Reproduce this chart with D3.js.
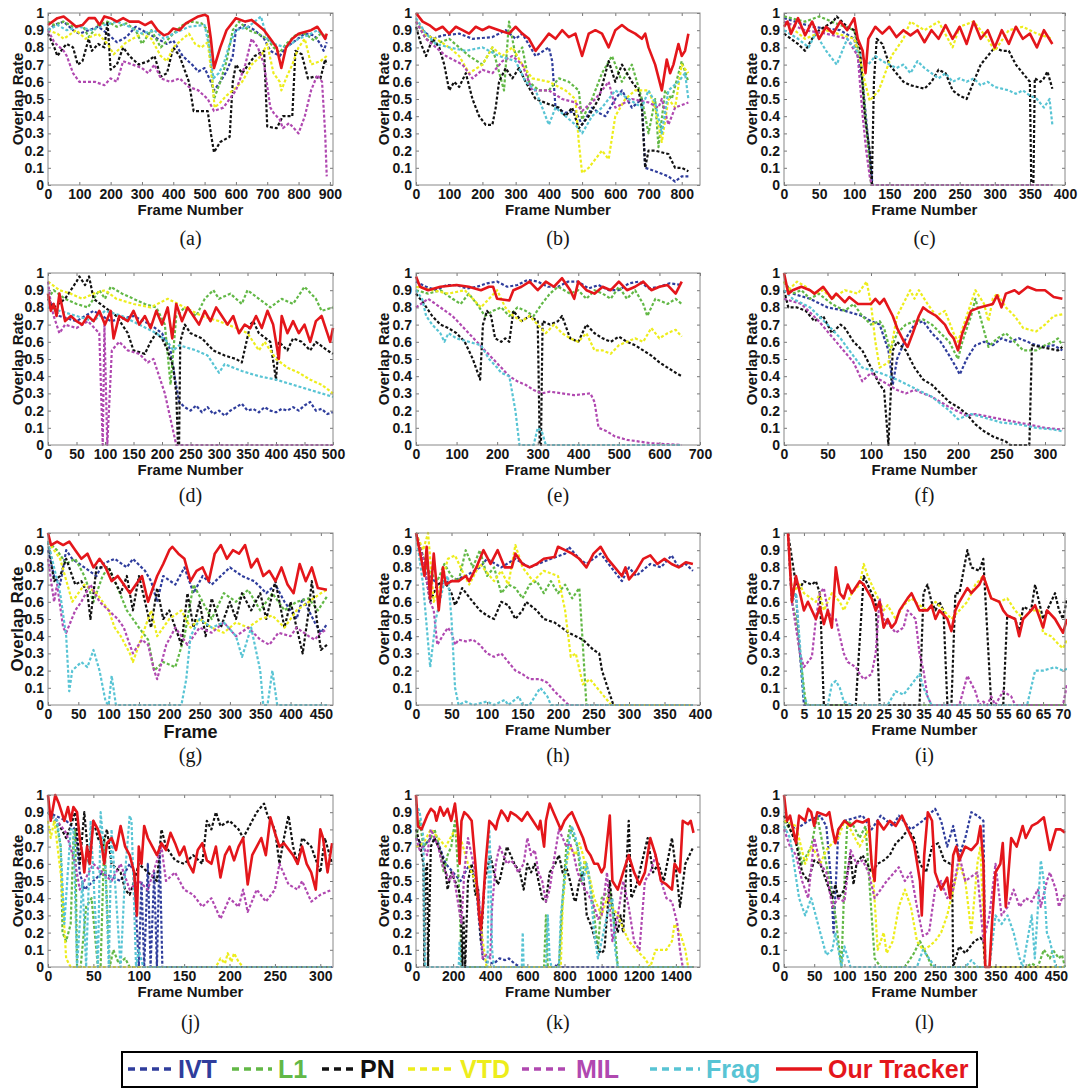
<!DOCTYPE html>
<html>
<head>
<meta charset="utf-8">
<script src="https://cdn.jsdelivr.net/npm/d3@7"></script>
<style>
body { margin: 0; background: #fff; }
svg text { font-family: "Liberation Sans", Arial, sans-serif; font-weight: bold; fill: #151515; }
svg text.tag { font-family: "Liberation Serif", "Times New Roman", serif; font-weight: normal; }
</style>
</head>
<body>
<svg id="fig" width="1079" height="1089"></svg>
<script>
// trackers, in legend order
var trackers = ["IVT", "L1", "PN", "VTD", "MIL", "Frag", "Our Tracker"];
var colors = ["#2f3d9c", "#62b846", "#111111", "#eded1c", "#b048b0", "#58c4d4", "#e4161b"];
var yTicks = [0, 0.1, 0.2, 0.3, 0.4, 0.5, 0.6, 0.7, 0.8, 0.9, 1];

// values are x,y pairs (frame, overlap rate)
var a_ticks = [0,100,200,300,400,500,600,700,800,900];
var a_ivt = [0,.9, 20,.93, 50,.95, 80,.9, 100,.88, 130,.9, 160,.92, 190,.88, 220,.83, 250,.86, 280,.92, 300,.9, 330,.87, 350,.85, 380,.82, 400,.84, 430,.75, 460,.7, 480,.66, 500,.68, 520,.6, 530,.55, 550,.6, 570,.66, 590,.75, 600,.9, 630,.93, 660,.9, 690,.85, 710,.78, 740,.75, 760,.8, 790,.84, 820,.88, 850,.87, 870,.82, 880,.78, 890,.83];
var a_l1 = [0,.95, 20,.93, 50,.95, 80,.92, 110,.93, 130,.86, 160,.93, 190,.95, 220,.92, 250,.94, 280,.9, 300,.82, 330,.9, 360,.8, 380,.84, 400,.88, 430,.93, 460,.95, 490,.94, 510,.9, 530,.5, 550,.6, 570,.72, 590,.9, 610,.95, 640,.9, 670,.88, 700,.85, 720,.8, 740,.77, 760,.82, 790,.87, 820,.88, 850,.84, 870,.88, 890,.86];
var a_pn = [0,.88, 20,.8, 30,.75, 50,.8, 60,.82, 80,.8, 95,.7, 110,.72, 130,.85, 140,.78, 160,.82, 180,.8, 190,.95, 200,.67, 220,.7, 240,.8, 260,.75, 290,.7, 320,.72, 340,.75, 360,.63, 380,.65, 400,.8, 420,.75, 450,.6, 465,.43, 510,.43, 520,.3, 530,.19, 550,.25, 580,.28, 590,.6, 600,.7, 620,.65, 640,.7, 660,.75, 690,.78, 700,.34, 730,.33, 750,.4, 780,.4, 790,.78, 810,.76, 830,.62, 850,.63, 870,.62, 885,.73, 890,.7];
var a_vtd = [0,.9, 30,.88, 50,.85, 90,.9, 120,.85, 160,.88, 190,.82, 210,.76, 250,.83, 300,.88, 330,.85, 360,.75, 380,.72, 400,.8, 430,.85, 450,.88, 470,.82, 490,.8, 510,.83, 525,.6, 532,.45, 550,.48, 570,.52, 590,.55, 620,.6, 650,.7, 680,.75, 700,.82, 720,.65, 740,.6, 745,.55, 760,.62, 780,.7, 800,.8, 820,.85, 840,.7, 870,.72, 890,.75];
var a_mil = [0,.9, 20,.83, 50,.78, 60,.75, 80,.65, 100,.6, 150,.6, 180,.58, 200,.62, 220,.6, 240,.72, 270,.7, 300,.68, 320,.65, 340,.7, 360,.62, 390,.6, 420,.62, 450,.57, 480,.55, 510,.5, 530,.43, 560,.45, 580,.5, 600,.55, 630,.7, 650,.85, 670,.8, 690,.7, 710,.45, 720,.42, 740,.38, 750,.33, 770,.36, 800,.3, 820,.4, 840,.55, 860,.64, 875,.6, 885,.3, 890,.05];
var a_frag = [0,.9, 30,.93, 60,.9, 100,.92, 140,.9, 180,.93, 220,.95, 260,.92, 300,.88, 340,.9, 370,.85, 400,.88, 450,.92, 500,.93, 515,.8, 528,.62, 545,.65, 560,.7, 580,.82, 600,.9, 640,.92, 680,.98, 700,.85, 720,.82, 760,.8, 800,.85, 830,.87, 860,.9, 890,.85];
var a_ours = [0,.93, 30,.97, 50,.98, 70,.95, 90,.92, 110,.93, 130,.97, 150,.97, 165,.93, 180,.98, 200,.97, 220,.95, 240,.97, 260,.95, 290,.95, 310,.93, 330,.95, 350,.9, 370,.87, 385,.88, 400,.91, 420,.9, 440,.94, 460,.96, 480,.98, 500,.99, 510,.98, 520,.85, 530,.68, 550,.8, 570,.9, 600,.97, 630,.95, 650,.96, 670,.93, 690,.9, 710,.85, 730,.8, 745,.68, 760,.8, 780,.85, 800,.88, 820,.89, 840,.9, 860,.92, 875,.88, 885,.85, 890,.88];

var b_ticks = [0,100,200,300,400,500,600,700,800];
var b_ivt = [0,.95, 20,.9, 50,.85, 80,.87, 130,.88, 170,.85, 230,.86, 270,.9, 300,.85, 320,.88, 360,.75, 400,.8, 410,.72, 420,.45, 450,.42, 480,.43, 500,.35, 530,.45, 550,.42, 570,.4, 600,.5, 620,.55, 650,.45, 680,.5, 690,.1, 720,.08, 760,.05, 780,.02, 800,.05, 820,.05];
var b_l1 = [0,.95, 30,.85, 60,.82, 100,.85, 130,.8, 160,.75, 200,.7, 230,.8, 265,.55, 280,.95, 300,.75, 320,.8, 340,.6, 370,.55, 400,.55, 430,.62, 460,.6, 490,.55, 500,.38, 530,.5, 560,.65, 590,.75, 620,.6, 650,.7, 680,.5, 700,.3, 720,.5, 730,.22, 750,.55, 770,.5, 800,.72, 820,.6];
var b_pn = [0,.92, 15,.82, 30,.75, 50,.85, 70,.8, 85,.7, 100,.55, 115,.6, 130,.57, 150,.65, 170,.5, 190,.4, 210,.35, 230,.35, 240,.45, 250,.6, 270,.68, 290,.62, 310,.68, 330,.6, 360,.5, 400,.47, 430,.45, 450,.4, 470,.45, 490,.33, 520,.4, 550,.5, 580,.72, 600,.6, 620,.7, 650,.6, 670,.55, 680,.45, 690,.1, 700,.2, 720,.2, 760,.18, 780,.1, 800,.1, 820,.08];
var b_vtd = [0,.95, 30,.87, 60,.85, 100,.8, 130,.75, 160,.65, 200,.7, 230,.8, 260,.75, 290,.8, 320,.7, 350,.62, 400,.6, 450,.55, 480,.5, 490,.25, 500,.07, 520,.1, 540,.15, 560,.2, 580,.15, 600,.4, 630,.5, 660,.55, 700,.55, 720,.45, 740,.25, 760,.5, 780,.45, 800,.7, 820,.65];
var b_mil = [0,.95, 30,.85, 60,.8, 90,.75, 110,.73, 140,.7, 170,.62, 200,.67, 230,.65, 260,.72, 290,.75, 320,.7, 350,.55, 400,.55, 440,.5, 480,.48, 500,.43, 540,.5, 580,.6, 600,.45, 650,.5, 700,.48, 730,.45, 740,.5, 760,.35, 780,.45, 820,.48];
var b_frag = [0,.97, 30,.88, 60,.82, 100,.8, 150,.78, 200,.8, 250,.75, 300,.72, 330,.6, 360,.55, 400,.35, 420,.45, 450,.4, 480,.35, 500,.3, 530,.4, 560,.45, 600,.55, 640,.5, 680,.45, 700,.55, 720,.48, 740,.3, 760,.55, 790,.6, 810,.65, 820,.5];
var b_ours = [0,1, 20,.95, 40,.93, 60,.9, 80,.92, 100,.88, 120,.92, 140,.9, 160,.88, 180,.92, 200,.9, 220,.92, 250,.9, 280,.88, 300,.92, 320,.88, 340,.85, 360,.78, 380,.83, 400,.88, 420,.85, 440,.9, 460,.86, 480,.88, 500,.75, 520,.88, 540,.9, 560,.88, 580,.8, 600,.9, 620,.93, 640,.9, 660,.88, 680,.85, 690,.88, 700,.8, 720,.7, 740,.55, 755,.73, 765,.65, 775,.7, 790,.82, 800,.75, 810,.78, 820,.88];

var c_ticks = [0,50,100,150,200,250,300,350,400];
var c_ivt = [0,.97, 40,.92, 80,.9, 100,.85, 112,.6, 120,.25, 126,0, 382,0];
var c_l1 = [0,.98, 30,.95, 50,.98, 80,.93, 100,.9, 110,.7, 118,.3, 124,0, 382,0];
var c_pn = [0,.88, 20,.82, 30,.78, 40,.85, 50,.9, 70,.95, 75,.98, 90,.92, 100,.9, 108,.8, 115,.4, 122,.2, 125,0, 128,.6, 132,.85, 140,.82, 150,.7, 160,.65, 170,.6, 180,.58, 190,.57, 200,.56, 210,.6, 220,.67, 230,.65, 240,.55, 250,.52, 260,.5, 270,.6, 280,.7, 290,.75, 300,.8, 310,.78, 320,.78, 330,.7, 340,.65, 350,.6, 352,0, 355,0, 357,.62, 365,.6, 370,.62, 375,.66, 382,.56];
var c_vtd = [0,.95, 30,.85, 60,.9, 100,.85, 110,.7, 115,.6, 122,.49, 135,.55, 153,.75, 170,.85, 180,.95, 200,.9, 220,.95, 240,.8, 250,.92, 270,.95, 290,.85, 300,.78, 320,.9, 340,.92, 360,.88, 382,.85];
var c_mil = [0,.95, 30,.9, 60,.88, 90,.85, 105,.75, 112,.4, 117,.2, 122,.05, 125,0, 382,0];
var c_frag = [0,.9, 20,.85, 35,.8, 45,.88, 60,.78, 75,.7, 90,.85, 100,.8, 110,.75, 120,.7, 130,.75, 140,.72, 150,.7, 160,.68, 170,.7, 180,.65, 190,.72, 200,.68, 210,.65, 220,.62, 230,.65, 240,.6, 250,.62, 260,.6, 270,.62, 280,.58, 290,.6, 300,.57, 310,.56, 320,.55, 330,.53, 340,.55, 350,.52, 360,.5, 370,.45, 378,.5, 382,.35];
var c_ours = [0,.92, 5,.95, 10,.88, 20,.97, 30,.87, 40,.95, 50,.85, 60,.92, 70,.88, 80,.95, 90,.9, 100,.97, 105,.85, 112,.78, 116,.65, 120,.85, 130,.92, 140,.88, 150,.92, 160,.86, 170,.9, 180,.87, 190,.9, 200,.83, 210,.9, 220,.85, 230,.93, 240,.85, 250,.92, 260,.82, 270,.95, 280,.85, 290,.9, 300,.8, 310,.9, 320,.82, 330,.92, 340,.85, 350,.88, 360,.8, 370,.9, 382,.82];

var d_ticks = [0,50,100,150,200,250,300,350,400,450,500];
var d_ivt = [0,.85, 20,.75, 50,.72, 80,.78, 110,.72, 150,.75, 180,.7, 200,.65, 215,.55, 222,.4, 230,.25, 240,.22, 250,.2, 260,.23, 270,.19, 280,.22, 290,.18, 300,.2, 310,.17, 320,.2, 330,.22, 340,.24, 350,.2, 360,.21, 370,.19, 380,.22, 390,.2, 400,.19, 410,.21, 420,.2, 430,.22, 440,.2, 450,.23, 460,.25, 470,.2, 480,.21, 490,.18, 500,.19];
var d_l1 = [0,.85, 10,.9, 30,.85, 50,.82, 70,.8, 90,.9, 100,.85, 110,.92, 130,.88, 150,.85, 170,.82, 190,.8, 205,.7, 215,.35, 225,.75, 240,.8, 260,.75, 275,.85, 290,.9, 300,.85, 320,.88, 340,.82, 350,.9, 370,.85, 390,.8, 410,.85, 430,.82, 450,.92, 470,.85, 480,.78, 500,.8];
var d_pn = [0,.85, 10,.8, 30,.85, 50,.95, 55,.98, 65,.93, 72,.98, 80,.85, 100,.8, 120,.75, 130,.7, 140,.65, 150,.55, 170,.53, 180,.6, 190,.65, 200,.62, 210,.55, 220,.45, 225,.3, 228,0, 230,0, 232,.6, 240,.7, 250,.65, 270,.62, 290,.55, 310,.52, 330,.5, 340,.48, 355,.7, 360,.72, 370,.65, 390,.6, 400,.38, 405,.6, 420,.55, 430,.62, 445,.6, 460,.55, 470,.6, 490,.55, 500,.53];
var d_vtd = [0,.95, 20,.9, 40,.88, 60,.85, 80,.88, 100,.9, 120,.85, 150,.82, 180,.8, 210,.85, 240,.8, 270,.75, 300,.72, 330,.68, 350,.65, 370,.55, 380,.6, 400,.5, 420,.45, 440,.42, 460,.38, 480,.35, 500,.3];
var d_mil = [0,.95, 5,.82, 10,.75, 20,.65, 30,.7, 50,.68, 70,.72, 90,.65, 96,0, 99,.7, 104,0, 112,.55, 125,.6, 140,.55, 160,.53, 175,.48, 185,.5, 195,.4, 205,.3, 215,.15, 225,0, 500,0];
var d_frag = [0,.8, 20,.78, 50,.75, 80,.72, 100,.78, 130,.75, 160,.7, 190,.65, 210,.6, 220,.55, 230,.58, 260,.55, 280,.52, 300,.42, 310,.47, 340,.43, 370,.4, 400,.38, 430,.35, 460,.32, 500,.28];
var d_ours = [0,.88, 5,.78, 10,.82, 15,.75, 20,.88, 25,.8, 30,.72, 40,.75, 50,.72, 60,.7, 70,.75, 80,.72, 90,.78, 100,.7, 110,.78, 115,.62, 125,.75, 140,.72, 150,.78, 160,.7, 170,.75, 180,.68, 190,.78, 200,.7, 210,.8, 218,.62, 225,.82, 235,.72, 245,.8, 255,.75, 265,.7, 275,.78, 285,.72, 295,.8, 305,.75, 315,.7, 325,.75, 335,.65, 345,.7, 355,.68, 365,.75, 375,.68, 385,.78, 395,.7, 405,.5, 410,.75, 420,.65, 430,.72, 440,.65, 450,.7, 460,.6, 470,.72, 480,.75, 490,.65, 495,.6, 500,.68];

var e_ticks = [0,100,200,300,400,500,600,700];
var e_ivt = [0,.95, 25,.92, 50,.9, 75,.93, 100,.93, 125,.91, 150,.92, 175,.94, 200,.95, 225,.92, 250,.93, 275,.96, 300,.95, 325,.92, 350,.92, 375,.95, 400,.95, 425,.91, 450,.93, 475,.9, 500,.9, 525,.94, 550,.95, 575,.91, 600,.92, 625,.94, 655,.93];
var e_l1 = [0,.9, 30,.88, 60,.9, 90,.85, 110,.82, 130,.88, 150,.82, 170,.75, 190,.78, 210,.8, 230,.75, 250,.8, 270,.78, 290,.75, 310,.82, 330,.88, 350,.92, 380,.88, 400,.9, 420,.85, 440,.9, 460,.88, 480,.85, 500,.92, 520,.85, 540,.9, 560,.82, 570,.75, 590,.85, 620,.82, 640,.85, 655,.82];
var e_pn = [0,.88, 20,.82, 40,.75, 60,.7, 80,.68, 100,.65, 120,.6, 140,.5, 155,.4, 158,.38, 165,.7, 175,.78, 185,.75, 195,.62, 210,.6, 220,.62, 230,.6, 240,.78, 260,.72, 280,.75, 300,.72, 305,0, 308,0, 312,.72, 330,.7, 350,.72, 360,.75, 380,.62, 400,.6, 420,.7, 440,.65, 460,.62, 480,.6, 500,.63, 520,.6, 540,.58, 560,.55, 580,.52, 600,.48, 620,.45, 640,.42, 655,.4];
var e_vtd = [0,.92, 40,.9, 80,.88, 120,.9, 140,.85, 160,.8, 180,.85, 200,.9, 220,.8, 240,.75, 260,.72, 280,.75, 300,.7, 320,.65, 340,.7, 360,.65, 380,.62, 400,.6, 420,.65, 440,.55, 460,.55, 480,.53, 500,.58, 520,.6, 540,.62, 560,.6, 580,.68, 600,.62, 620,.65, 640,.67, 655,.63];
var e_mil = [0,.8, 30,.85, 60,.8, 90,.75, 110,.7, 130,.65, 150,.6, 170,.55, 190,.5, 210,.45, 230,.4, 250,.37, 270,.35, 290,.32, 310,.3, 330,.31, 360,.3, 390,.29, 430,.3, 440,.25, 450,.1, 470,.08, 490,.05, 520,.03, 550,.02, 580,.01, 655,0];
var e_frag = [0,.9, 15,.85, 25,.75, 40,.7, 60,.65, 70,.6, 80,.65, 100,.62, 130,.6, 160,.58, 180,.5, 200,.45, 210,.42, 230,.4, 245,.2, 255,0, 290,0, 300,.1, 310,.08, 320,0, 655,0];
var e_ours = [0,.98, 10,.92, 30,.9, 60,.92, 100,.93, 130,.92, 160,.9, 180,.92, 190,.92, 200,.85, 230,.84, 240,.9, 260,.92, 280,.95, 300,.9, 320,.95, 340,.92, 360,.97, 380,.9, 390,.85, 400,.95, 420,.9, 440,.88, 460,.92, 480,.9, 500,.95, 520,.9, 540,.92, 560,.95, 580,.9, 600,.92, 620,.93, 640,.88, 655,.95];

var f_ticks = [0,50,100,150,200,250,300];
var f_ivt = [0,.95, 10,.88, 30,.85, 50,.8, 70,.78, 90,.75, 100,.72, 110,.7, 120,.55, 125,.35, 130,.5, 140,.62, 150,.7, 160,.72, 170,.65, 180,.6, 190,.52, 198,.45, 202,.41, 210,.5, 220,.58, 230,.6, 240,.58, 250,.62, 260,.6, 270,.62, 280,.6, 290,.58, 300,.57, 310,.58, 320,.55];
var f_l1 = [0,.95, 10,.88, 20,.9, 30,.85, 40,.88, 55,.82, 70,.78, 80,.82, 90,.75, 100,.7, 110,.72, 115,.68, 122,.55, 130,.65, 140,.7, 150,.72, 160,.73, 170,.7, 180,.65, 190,.6, 200,.5, 205,.6, 215,.75, 220,.85, 228,.7, 235,.57, 245,.62, 255,.65, 265,.6, 275,.55, 290,.55, 300,.58, 310,.6, 315,.62, 320,.58];
var f_pn = [0,.9, 5,.8, 15,.8, 25,.78, 35,.72, 45,.75, 55,.65, 65,.7, 70,.68, 80,.6, 90,.55, 100,.45, 110,.35, 115,.32, 120,0, 125,.55, 130,.6, 140,.55, 150,.45, 160,.38, 170,.35, 180,.3, 190,.25, 200,.22, 210,.18, 220,.12, 230,.08, 240,.05, 250,.03, 255,.02, 260,0, 282,0, 285,.58, 295,.57, 305,.56, 315,.55, 320,.57];
var f_vtd = [0,.95, 5,.9, 15,.95, 25,.92, 35,.88, 45,.9, 55,.85, 70,.9, 85,.88, 95,.95, 100,.82, 105,.6, 110,.45, 120,.48, 130,.75, 140,.85, 145,.9, 150,.85, 155,.9, 165,.82, 175,.75, 185,.78, 195,.65, 200,.6, 210,.75, 220,.9, 230,.82, 235,.72, 240,.85, 245,.88, 255,.8, 265,.75, 275,.68, 290,.66, 300,.7, 310,.75, 320,.76];
var f_mil = [0,.85, 20,.82, 40,.72, 60,.6, 80,.48, 90,.37, 100,.42, 110,.38, 120,.35, 130,.32, 140,.3, 150,.32, 170,.28, 190,.22, 210,.17, 220,.18, 240,.16, 260,.14, 280,.12, 300,.1, 320,.09];
var f_frag = [0,.9, 10,.85, 30,.8, 50,.7, 65,.62, 75,.55, 90,.45, 110,.42, 130,.38, 150,.33, 170,.28, 190,.2, 200,.15, 215,.18, 230,.16, 250,.13, 270,.12, 290,.1, 310,.09, 320,.08];
var f_ours = [0,1, 5,.88, 10,.9, 20,.92, 30,.9, 35,.88, 40,.9, 45,.92, 55,.85, 60,.88, 70,.83, 75,.86, 85,.82, 100,.82, 105,.85, 110,.82, 115,.85, 125,.75, 130,.68, 138,.6, 142,.57, 148,.65, 155,.75, 160,.8, 165,.78, 175,.75, 185,.7, 190,.65, 195,.62, 200,.55, 205,.65, 215,.78, 225,.8, 240,.82, 245,.87, 250,.8, 255,.88, 265,.9, 270,.88, 275,.9, 280,.92, 290,.9, 300,.9, 310,.86, 320,.85];

var g_ticks = [0,50,100,150,200,250,300,350,400,450];
var g_ivt = [0,.9, 10,.75, 20,.7, 30,.9, 40,.85, 60,.8, 80,.75, 90,.82, 110,.85, 130,.8, 140,.85, 160,.78, 170,.72, 180,.6, 190,.75, 210,.7, 225,.8, 240,.65, 255,.75, 270,.7, 300,.8, 320,.75, 340,.72, 360,.65, 375,.7, 390,.6, 400,.55, 410,.5, 420,.62, 430,.55, 440,.48, 450,.42, 460,.47];
var g_l1 = [0,.95, 15,.9, 30,.82, 45,.85, 60,.75, 75,.6, 90,.75, 100,.8, 115,.68, 130,.55, 150,.45, 165,.38, 175,.2, 190,.25, 210,.22, 225,.4, 240,.7, 255,.6, 270,.5, 290,.65, 310,.6, 330,.67, 350,.55, 370,.65, 390,.55, 410,.6, 430,.62, 445,.55, 460,.63];
var g_pn = [0,.95, 10,.72, 20,.75, 30,.85, 45,.7, 55,.72, 65,.65, 70,.5, 80,.8, 100,.8, 110,.72, 120,.65, 130,.75, 140,.55, 150,.75, 160,.6, 170,.45, 180,.68, 190,.5, 200,.55, 220,.35, 230,.65, 240,.45, 250,.6, 260,.4, 270,.62, 285,.45, 300,.6, 310,.5, 320,.65, 335,.55, 350,.65, 360,.5, 375,.72, 390,.45, 400,.6, 420,.3, 430,.55, 435,.72, 445,.45, 450,.32, 460,.35];
var g_vtd = [0,.95, 20,.85, 40,.6, 60,.7, 80,.65, 100,.55, 110,.45, 120,.4, 135,.3, 140,.25, 150,.35, 160,.45, 170,.55, 180,.4, 200,.5, 220,.55, 235,.45, 250,.5, 270,.45, 290,.42, 310,.48, 330,.45, 350,.5, 370,.52, 390,.45, 410,.55, 430,.6, 450,.65, 460,.67];
var g_mil = [0,.85, 10,.6, 15,.7, 25,.45, 30,.42, 45,.55, 55,.6, 70,.7, 85,.6, 100,.55, 115,.5, 125,.45, 140,.3, 155,.38, 165,.35, 175,.2, 180,.15, 195,.35, 210,.45, 230,.35, 250,.45, 270,.42, 290,.48, 310,.4, 330,.45, 350,.38, 365,.35, 380,.42, 400,.4, 410,.45, 430,.4, 440,.38, 450,.42, 460,.44];
var g_frag = [0,.95, 10,.8, 20,.65, 30,.4, 35,.08, 40,.2, 55,.25, 65,.22, 75,.32, 85,.2, 95,.02, 100,0, 105,.17, 112,0, 220,0, 228,.15, 235,.4, 250,.5, 270,.45, 290,.48, 310,.4, 320,.28, 335,.45, 350,.2, 355,0, 362,0, 370,.2, 378,0, 460,0];
var g_ours = [0,1, 5,.93, 15,.95, 25,.93, 35,.95, 45,.9, 55,.85, 65,.88, 75,.8, 85,.85, 95,.8, 105,.72, 115,.75, 125,.7, 135,.65, 145,.7, 155,.75, 165,.6, 175,.7, 180,.75, 190,.82, 200,.9, 205,.92, 215,.88, 225,.85, 235,.72, 245,.78, 255,.8, 265,.72, 275,.88, 285,.93, 295,.85, 305,.9, 315,.88, 325,.93, 335,.8, 345,.85, 355,.75, 365,.78, 375,.72, 385,.8, 395,.7, 405,.65, 415,.82, 425,.72, 435,.8, 445,.68, 460,.67];

var h_ticks = [0,50,100,150,200,250,300,350,400];
var h_ivt = [0,1, 10,.85, 20,.75, 30,.7, 50,.72, 70,.75, 90,.8, 100,.85, 120,.8, 140,.85, 160,.8, 190,.85, 210,.88, 215,.92, 230,.85, 240,.82, 260,.88, 275,.8, 290,.72, 300,.8, 310,.75, 330,.82, 345,.8, 360,.87, 370,.8, 380,.82, 390,.78];
var h_l1 = [0,1, 15,.8, 30,.72, 40,.82, 50,.75, 60,.72, 70,.9, 80,.8, 90,.9, 100,.75, 110,.8, 120,.65, 130,.7, 140,.68, 150,.62, 160,.7, 170,.72, 180,.65, 190,.72, 200,.65, 210,.7, 220,.62, 230,.68, 235,.35, 240,0, 390,0];
var h_pn = [0,1, 10,.85, 20,.6, 30,.7, 40,.72, 50,.65, 55,.58, 60,.62, 65,.68, 80,.6, 90,.55, 100,.52, 110,.5, 120,.6, 130,.58, 140,.5, 150,.55, 155,.6, 170,.55, 180,.5, 195,.48, 205,.45, 215,.42, 225,.4, 235,.38, 250,.32, 258,.3, 262,.2, 270,.1, 278,0, 390,0];
var h_vtd = [0,1, 10,.9, 17,1, 25,.6, 35,.7, 45,.85, 55,.87, 65,.78, 75,.7, 90,.82, 110,.72, 120,.78, 130,.7, 140,.93, 150,.8, 165,.72, 180,.78, 200,.75, 210,.55, 218,.28, 225,.3, 235,.12, 245,.15, 255,.1, 265,.05, 275,0, 390,0];
var h_mil = [0,1, 10,.85, 20,.6, 25,.55, 30,.35, 40,.42, 45,.45, 50,.42, 55,.35, 60,.38, 70,.37, 80,.38, 90,.35, 100,.3, 110,.28, 120,.3, 130,.25, 140,.2, 150,.18, 160,.15, 175,.15, 185,.13, 195,.08, 205,.04, 215,0, 390,0];
var h_frag = [0,1, 10,.7, 20,.22, 28,.5, 40,.72, 45,.75, 50,.5, 55,.1, 60,0, 70,.02, 80,0, 100,.02, 110,0, 125,.03, 130,0, 145,.05, 150,0, 160,0, 175,.1, 185,.05, 190,0, 390,0];
var h_ours = [0,1, 5,.9, 12,.75, 15,.92, 20,.62, 25,.88, 32,.55, 38,.8, 42,.7, 50,.72, 60,.72, 70,.75, 75,.72, 85,.8, 95,.9, 105,.82, 115,.9, 125,.8, 135,.8, 140,.88, 150,.82, 160,.8, 170,.82, 180,.85, 195,.86, 200,.92, 210,.9, 220,.88, 230,.85, 240,.8, 250,.88, 260,.92, 270,.85, 280,.8, 290,.75, 295,.8, 300,.73, 310,.78, 320,.85, 330,.87, 340,.82, 350,.85, 360,.82, 370,.8, 380,.83, 390,.82];

var i_ticks = [0,5,10,15,20,25,30,35,40,45,50,55,60,65,70];
var i_ivt = [1,1, 2,.6, 3,.65, 4,.3, 5,0, 71,0];
var i_l1 = [1,1, 2,.6, 3,.5, 4.5,.2, 5.5,0, 71,0];
var i_pn = [1,1, 3,.7, 4,.68, 5,.72, 7,.7, 8,.72, 9,.65, 10,0, 18,0, 20,.75, 21,.7, 22,.65, 23,.6, 24,0, 34,0, 35,.65, 36,.7, 37,.6, 38,.55, 39,.6, 40,.55, 41,0, 42,0, 43,.65, 44,.65, 46,.9, 47,.8, 49,.78, 50,.85, 52,0, 55,0, 56,.52, 58,.5, 59,.42, 60,.57, 62,.55, 63,.7, 64,.6, 65,.5, 67,.6, 68,.65, 69,.55, 70,.5, 71,.62];
var i_vtd = [1,1, 2,.65, 4,.7, 5,.65, 8,.6, 9,.65, 10,.55, 12,.65, 14,.6, 15,.55, 17,.65, 19,.7, 20,.82, 21,.75, 23,.65, 25,.55, 26,.58, 28,.5, 30,.58, 32,.62, 34,.58, 36,.55, 38,.6, 40,.55, 42,.5, 44,.55, 46,.6, 48,.7, 50,.75, 52,.62, 54,.6, 56,.62, 58,.55, 60,.5, 62,.55, 64,.55, 65,.42, 67,.4, 69,.35, 70,.33, 71,.38];
var i_mil = [1,1, 2,.6, 4,.3, 5,.22, 7,.28, 8,.5, 9,.65, 10,.68, 11,.55, 12,.5, 13,.5, 14,.4, 15,.3, 16,.25, 18,.22, 19,.18, 20,.15, 22,.18, 23,.3, 24,.62, 25,.5, 27,.45, 28,.42, 30,.45, 31,.55, 33,.5, 34,.3, 35,.2, 36,.05, 37,0, 44,0, 46,.17, 48,.08, 49,0, 50,.02, 51,0, 52,.05, 53,0, 55,.08, 57,.05, 58,0, 70,0, 71,.12];
var i_frag = [1,1, 2,.6, 3,.65, 4,.35, 5,.05, 6,0, 11,0, 12,.12, 13,.14, 14,.1, 15,.02, 17,0, 26,0, 28,.08, 30,.06, 32,.12, 34,.18, 35,.1, 37,0, 61,0, 62,.1, 63,.2, 65,.2, 68,.22, 70,.2, 71,.21];
var i_ours = [1,1, 2,.6, 3,.75, 5,.55, 6,.6, 8,.5, 9,.57, 10,.47, 11,.55, 12,.45, 13,.8, 14,.65, 15,.62, 16,.7, 17,.65, 19,.72, 20,.7, 22,.62, 23,.55, 24,.6, 25,.45, 26,.5, 27,.45, 28,.48, 29,.55, 31,.62, 32,.65, 34,.55, 36,.55, 37,.58, 38,.5, 39,.55, 41,.5, 42,.43, 43,.55, 44,.6, 46,.68, 47,.65, 49,.7, 50,.75, 52,.62, 54,.6, 55,.55, 56,.52, 58,.5, 59,.4, 60,.5, 62,.55, 63,.58, 65,.45, 66,.55, 68,.5, 70,.42, 71,.5];

var j_ticks = [0,50,100,150,200,250,300];
var j_ivt = [0,.9, 20,.85, 30,.8, 35,.55, 40,.45, 50,.5, 60,.55, 80,.5, 90,.6, 95,.55, 100,0, 103,.5, 106,0, 110,.6, 113,0, 117,.55, 120,0, 123,.7, 126,0, 313,0];
var j_l1 = [0,.9, 10,.82, 14,.7, 16,.2, 20,.15, 25,.25, 28,.75, 30,.8, 32,0, 36,0, 42,.35, 48,.4, 55,0, 58,0, 62,.75, 68,0, 72,.1, 78,.02, 85,.05, 90,0, 313,0];
var j_pn = [0,.9, 10,.85, 15,.8, 20,.75, 25,.82, 30,.9, 35,.6, 40,.9, 45,.6, 50,.85, 55,.75, 60,.7, 65,.8, 70,.6, 80,.55, 85,.45, 90,.42, 95,.5, 100,.6, 110,.55, 120,.5, 125,.8, 130,.7, 140,.62, 150,.6, 160,.65, 170,.6, 175,.85, 180,.8, 185,.9, 190,.82, 200,.85, 210,.8, 215,.75, 225,.85, 230,.9, 238,.95, 242,.88, 250,.8, 255,.6, 260,.75, 265,.88, 270,.7, 275,.6, 280,.75, 290,.7, 300,.55, 305,.75, 313,.6];
var j_vtd = [0,.85, 3,.75, 7,.85, 10,.72, 15,.5, 20,.05, 25,0, 185,0, 190,.05, 195,.02, 198,.08, 202,.03, 205,.08, 210,.03, 215,0, 313,0];
var j_mil = [0,.9, 10,.85, 20,.78, 30,.6, 35,.45, 40,.5, 50,.6, 60,.55, 70,.5, 80,.6, 90,.45, 100,.5, 110,.45, 125,.7, 130,.5, 140,.55, 150,.45, 160,.42, 170,.35, 180,.4, 190,.28, 200,.4, 210,.35, 215,.45, 220,.32, 230,.45, 240,.38, 250,.45, 255,.6, 265,.48, 275,.45, 280,.5, 290,.38, 300,.42, 313,.45];
var j_frag = [0,.9, 10,.85, 14,.7, 18,.25, 25,.8, 28,.8, 32,0, 38,.5, 42,0, 47,.85, 55,0, 58,.9, 63,.6, 67,0, 70,.8, 80,0, 85,.55, 90,.88, 92,.85, 97,0, 100,.1, 105,0, 313,0];
var j_ours = [0,1, 3,.85, 8,1, 12,.95, 15,.9, 18,.85, 22,.93, 25,.85, 28,.93, 32,.9, 35,.75, 38,.65, 40,.55, 43,.7, 46,.6, 50,.85, 55,.8, 58,.75, 62,.6, 65,.72, 70,.75, 75,.68, 80,.82, 85,.7, 90,.65, 95,.55, 98,.3, 100,.7, 103,.6, 106,.82, 110,.75, 115,.7, 120,.65, 125,.72, 130,.68, 135,.78, 140,.72, 145,.65, 150,.7, 155,.6, 160,.55, 165,.68, 170,.72, 175,.62, 180,.6, 185,.7, 190,.52, 195,.65, 200,.7, 205,.62, 210,.7, 215,.75, 220,.48, 225,.65, 230,.7, 235,.75, 240,.65, 245,.87, 250,.78, 255,.7, 260,.72, 270,.65, 275,.6, 280,.7, 285,.6, 290,.55, 295,.45, 300,.8, 303,.75, 308,.55, 313,.72];

var k_ticks = [0,200,400,600,800,1000,1200,1400];
var k_ivt = [0,.75, 40,.7, 80,.75, 120,.72, 160,.6, 200,.55, 240,.5, 280,.58, 320,.52, 345,.2, 360,.05, 380,.03, 420,.02, 450,.05, 480,.04, 500,.05, 530,.02, 560,0, 750,0, 760,.02, 780,0, 1495,0];
var k_l1 = [0,.75, 20,.85, 40,.7, 80,.75, 100,.8, 120,.72, 140,.6, 150,.55, 170,.65, 190,.7, 210,.85, 230,.5, 240,.2, 245,0, 690,0, 700,.3, 710,0, 770,0, 790,.4, 810,.7, 830,.82, 850,.75, 870,.7, 890,.5, 910,.62, 930,.55, 950,.4, 970,.2, 980,.1, 1000,.4, 1044,.45, 1073,.2, 1087,0, 1495,0];
var k_pn = [0,.8, 20,.72, 40,.6, 45,0, 50,.55, 60,.6, 65,0, 80,.7, 100,.75, 120,.7, 140,.65, 160,.55, 170,.45, 190,.55, 210,.5, 230,.45, 240,.4, 250,0, 255,.3, 265,0, 280,.5, 300,.6, 320,.42, 335,.45, 350,.15, 370,.5, 390,.6, 400,.65, 420,.55, 440,.48, 450,.5, 470,.6, 490,.7, 510,.65, 530,.6, 560,.55, 580,.45, 600,.6, 620,.55, 640,.6, 660,.5, 680,.4, 700,.38, 720,.55, 750,.6, 770,.65, 790,.55, 810,.58, 830,.5, 850,.4, 860,.38, 880,.5, 900,.55, 920,.3, 940,.25, 960,.18, 980,.1, 1000,.08, 1015,.1, 1044,.5, 1058,.35, 1087,.2, 1102,.3, 1116,.2, 1146,.85, 1160,.4, 1189,.48, 1248,.75, 1277,.55, 1306,.6, 1335,.5, 1379,.75, 1408,.5, 1422,.35, 1451,.6, 1495,.7];
var k_vtd = [0,.7, 40,.72, 80,.8, 120,.75, 160,.7, 200,.78, 240,.75, 280,.6, 320,.5, 345,.3, 360,.15, 380,0, 780,0, 790,.35, 810,.6, 830,.7, 860,.65, 880,.72, 900,.65, 920,.55, 940,.5, 960,.4, 980,.35, 1000,.3, 1029,.4, 1058,.35, 1087,.3, 1146,.15, 1204,.08, 1233,.05, 1262,0, 1277,.05, 1291,.1, 1349,.1, 1379,.15, 1393,.25, 1422,.2, 1451,.1, 1466,0, 1495,0];
var k_mil = [0,.75, 20,.68, 40,.7, 60,.65, 80,.8, 100,.75, 120,.7, 140,.6, 160,.55, 180,.5, 200,.55, 230,.35, 245,.25, 260,.55, 280,.75, 300,.65, 320,.55, 340,.4, 360,.05, 380,.07, 400,.05, 410,.35, 430,.6, 450,.7, 470,.65, 490,.6, 510,.62, 530,.6, 550,.55, 580,.6, 600,.75, 620,.65, 640,.68, 660,.55, 680,.5, 700,.38, 720,.45, 740,.6, 770,.8, 790,.75, 810,.7, 830,.72, 850,.65, 870,.55, 890,.5, 910,.45, 930,.42, 960,.35, 980,.28, 1000,.3, 1029,.55, 1058,.15, 1087,.3, 1116,.5, 1146,.35, 1175,.15, 1204,.1, 1233,.5, 1262,.55, 1291,.65, 1320,.5, 1349,.4, 1379,.38, 1408,.25, 1422,.1, 1437,0, 1495,0];
var k_frag = [0,.95, 20,.9, 40,.75, 45,.2, 50,0, 230,0, 235,.15, 240,0, 385,0, 395,.8, 400,.65, 410,.1, 420,0, 570,0, 575,.2, 580,0, 700,0, 710,.3, 720,.05, 730,0, 770,0, 780,.3, 800,.5, 820,.7, 840,.82, 860,.75, 880,.65, 900,.5, 920,.6, 940,.45, 960,.2, 980,.05, 1000,.15, 1029,.3, 1058,.4, 1073,.1, 1087,0, 1495,0];
var k_ours = [0,1, 10,.82, 30,.8, 60,.88, 80,.92, 100,.9, 110,.85, 130,.93, 150,.88, 170,.92, 190,.85, 210,.95, 225,.8, 235,.6, 245,.85, 260,.9, 280,.88, 300,.85, 320,.6, 340,.3, 350,.22, 360,.35, 375,.6, 395,.85, 420,.82, 430,.8, 440,.85, 460,.91, 480,.88, 495,.85, 510,.9, 540,.88, 570,.85, 600,.9, 630,.85, 660,.8, 670,.85, 690,.7, 700,.85, 720,.95, 740,.9, 760,.85, 780,.8, 800,.85, 820,.88, 840,.9, 860,.85, 880,.8, 900,.75, 920,.68, 940,.65, 960,.6, 980,.6, 1000,.55, 1015,.58, 1044,.88, 1058,.5, 1087,.45, 1116,.55, 1146,.65, 1175,.55, 1204,.48, 1233,.55, 1262,.75, 1291,.65, 1320,.5, 1349,.48, 1379,.45, 1393,.6, 1422,.55, 1437,.85, 1466,.83, 1480,.85, 1495,.78];

var l_ticks = [0,50,100,150,200,250,300,350,400,450];
var l_ivt = [0,.85, 20,.8, 40,.85, 60,.88, 70,.82, 78,.5, 82,.2, 90,.8, 100,.85, 130,.88, 145,.8, 160,.88, 180,.82, 190,.88, 210,.8, 230,.85, 250,.92, 260,.85, 270,.7, 280,.82, 290,.65, 300,.75, 310,.9, 320,.88, 330,.85, 333,0, 465,0];
var l_l1 = [0,.85, 20,.75, 30,.6, 45,.7, 55,.88, 70,.6, 85,.3, 95,0, 100,.5, 105,.85, 115,.82, 125,.75, 135,.82, 145,.3, 150,.05, 160,0, 200,0, 215,.08, 225,.15, 235,.08, 245,0, 400,0, 410,.02, 420,0, 430,.1, 440,.05, 445,.1, 455,.05, 460,.07, 465,0];
var l_pn = [0,.88, 10,.8, 20,.72, 30,.55, 40,.5, 50,.62, 60,.6, 70,.5, 80,.4, 85,.48, 90,.4, 100,.45, 110,.65, 115,.48, 120,.6, 130,.65, 145,.55, 155,.6, 165,.62, 175,.65, 185,.72, 195,.75, 205,.8, 215,.75, 225,.6, 235,.55, 245,.7, 255,.72, 265,.62, 275,.6, 278,.6, 280,0, 290,.12, 300,.08, 315,.15, 325,.17, 330,.15, 333,0, 465,0];
var l_vtd = [0,.85, 20,.82, 35,.6, 45,.7, 55,.65, 60,.6, 70,.68, 80,.72, 90,.75, 100,.85, 110,.8, 125,.7, 140,.8, 148,.5, 155,.1, 165,.2, 170,.08, 180,.15, 190,.35, 200,.45, 210,.35, 220,.15, 230,.1, 240,.12, 250,.15, 260,.2, 270,.3, 280,.45, 290,.6, 300,.5, 310,.2, 320,.6, 325,.7, 333,0, 465,0];
var l_mil = [0,.8, 10,.7, 20,.65, 30,.5, 40,.4, 50,.75, 60,.6, 70,.55, 80,.35, 90,.4, 100,.38, 110,.68, 120,.6, 130,.62, 140,.55, 150,.4, 170,.5, 190,.58, 200,.5, 210,.55, 220,.35, 230,.18, 240,.2, 250,.45, 260,.5, 270,.4, 280,.45, 290,.65, 300,.5, 320,.55, 330,.15, 340,.3, 350,.6, 360,.3, 370,.35, 380,.45, 390,.35, 400,.4, 410,.38, 420,.45, 425,.35, 435,.5, 440,.55, 450,.45, 455,.35, 460,.4, 465,.42];
var l_frag = [0,.82, 10,.75, 25,.4, 35,.3, 45,.4, 60,.2, 70,.07, 80,.1, 85,.2, 95,0, 100,.12, 110,0, 220,0, 230,.1, 240,.05, 250,0, 300,0, 310,.04, 320,0, 340,0, 350,.3, 360,.25, 370,.3, 380,.2, 390,.05, 395,0, 410,.3, 415,.05, 425,.62, 430,.5, 435,.2, 440,.15, 450,0, 465,0];
var l_ours = [0,1, 5,.85, 10,.88, 20,.72, 25,.88, 35,.85, 40,.92, 45,.9, 50,.82, 55,.9, 70,.88, 75,.9, 80,.8, 85,.72, 90,.8, 100,.85, 110,.82, 120,.85, 130,.84, 140,.86, 145,.6, 150,.5, 155,.85, 165,.8, 175,.85, 185,.82, 195,.88, 205,.8, 215,.72, 225,.5, 228,.3, 232,.65, 238,.9, 245,.85, 250,.55, 260,.45, 270,.52, 275,.4, 280,.65, 285,.7, 290,.62, 300,.7, 310,.68, 320,.72, 325,.82, 330,.6, 333,0, 340,0, 345,.3, 350,.55, 358,.6, 362,.72, 367,.35, 376,.75, 385,.7, 395,.82, 400,.75, 410,.82, 420,.84, 430,.87, 440,.68, 450,.8, 458,.8, 465,.78];

var panels = [
  {tag: "(a)", xmax: 910, ticks: a_ticks, xlabel: "Frame Number", series: [a_ivt, a_l1, a_pn, a_vtd, a_mil, a_frag, a_ours]},
  {tag: "(b)", xmax: 855, ticks: b_ticks, xlabel: "Frame Number", series: [b_ivt, b_l1, b_pn, b_vtd, b_mil, b_frag, b_ours]},
  {tag: "(c)", xmax: 400, ticks: c_ticks, xlabel: "Frame Number", series: [c_ivt, c_l1, c_pn, c_vtd, c_mil, c_frag, c_ours]},
  {tag: "(d)", xmax: 500, ticks: d_ticks, xlabel: "Frame Number", series: [d_ivt, d_l1, d_pn, d_vtd, d_mil, d_frag, d_ours]},
  {tag: "(e)", xmax: 700, ticks: e_ticks, xlabel: "Frame Number", series: [e_ivt, e_l1, e_pn, e_vtd, e_mil, e_frag, e_ours]},
  {tag: "(f)", xmax: 323, ticks: f_ticks, xlabel: "Frame Number", series: [f_ivt, f_l1, f_pn, f_vtd, f_mil, f_frag, f_ours]},
  {tag: "(g)", xmax: 470, ticks: g_ticks, xlabel: "Frame", big: true, series: [g_ivt, g_l1, g_pn, g_vtd, g_mil, g_frag, g_ours]},
  {tag: "(h)", xmax: 400, ticks: h_ticks, xlabel: "Frame Number", series: [h_ivt, h_l1, h_pn, h_vtd, h_mil, h_frag, h_ours]},
  {tag: "(i)", xmax: 70.5, ticks: i_ticks, xlabel: "Frame Number", series: [i_ivt, i_l1, i_pn, i_vtd, i_mil, i_frag, i_ours]},
  {tag: "(j)", xmax: 314, ticks: j_ticks, xlabel: "Frame Number", series: [j_ivt, j_l1, j_pn, j_vtd, j_mil, j_frag, j_ours]},
  {tag: "(k)", xmax: 1530, ticks: k_ticks, xlabel: "Frame Number", series: [k_ivt, k_l1, k_pn, k_vtd, k_mil, k_frag, k_ours]},
  {tag: "(l)", xmax: 465, ticks: l_ticks, xlabel: "Frame Number", series: [l_ivt, l_l1, l_pn, l_vtd, l_mil, l_frag, l_ours]}
];

function pairs(a) {
  var r = [];
  for (var i = 0; i < a.length; i += 2) r.push([a[i], a[i + 1]]);
  return r;
}

var svg = d3.select("#fig");
var colLeft = [48, 416, 784], colW = [285, 284, 281], plotH = 172;
var rowTop = [13, 273, 533, 795];
var tagY = [245, 502, 762, 1029];

panels.forEach(function(p, k) {
  var c = k % 3, r = Math.floor(k / 3);
  var left = colLeft[c], top = rowTop[r], plotW = colW[c];

  var x = d3.scaleLinear().domain([0, p.xmax]).range([0, plotW]);
  var y = d3.scaleLinear().domain([0, 1]).range([plotH, 0]);

  var g = svg.append("g").attr("transform", "translate(" + left + "," + top + ")");

  g.append("clipPath").attr("id", "clip" + k)
    .append("rect").attr("x", -2).attr("y", -2).attr("width", plotW + 4).attr("height", plotH + 4);

  var fmt = function(d) { return d === 0 ? "0" : d === 1 ? "1" : d.toFixed(1); };

  g.append("g").attr("transform", "translate(0," + plotH + ")")
    .call(d3.axisBottom(x).tickValues(p.ticks).tickFormat(d3.format("d"))
      .tickSizeInner(-3).tickSizeOuter(0).tickPadding(4));
  g.append("g")
    .call(d3.axisLeft(y).tickValues(yTicks).tickFormat(fmt).tickSizeInner(-3).tickSizeOuter(0).tickPadding(4));
  g.append("g").call(d3.axisTop(x).tickValues(p.ticks).tickSizeInner(-3).tickSizeOuter(0).tickFormat(""));
  g.append("g").attr("transform", "translate(" + plotW + ",0)")
    .call(d3.axisRight(y).tickValues(yTicks).tickSizeInner(-3).tickSizeOuter(0).tickFormat(""));

  g.selectAll(".domain").remove();
  g.selectAll(".tick line").attr("stroke", "#777");
  g.selectAll(".tick text").attr("font-size", 14).attr("fill", "#151515");

  var line = d3.line().x(function(d) { return x(d[0]); }).y(function(d) { return y(d[1]); });

  var lines = g.append("g").attr("clip-path", "url(#clip" + k + ")");
  p.series.forEach(function(s, i) {
    var ours = i === trackers.length - 1;
    lines.append("path")
      .datum(pairs(s))
      .attr("d", line)
      .attr("fill", "none")
      .attr("stroke", colors[i])
      .attr("stroke-width", ours ? 2.6 : 2.2)
      .attr("stroke-dasharray", ours ? null : "3,2")
      .attr("stroke-linejoin", "round");
  });

  g.append("rect").attr("width", plotW).attr("height", plotH)
    .attr("fill", "none").attr("stroke", "#888").attr("stroke-width", 1);

  g.append("text")
    .attr("x", plotW / 2).attr("y", plotH + (p.big ? 33 : 30))
    .attr("text-anchor", "middle")
    .attr("font-size", p.big ? 18 : 15)
    .text(p.xlabel);

  g.append("text")
    .attr("transform", "translate(" + (c === 0 ? -31 : -33) + "," + (plotH / 2) + ") rotate(-90)")
    .attr("text-anchor", "middle")
    .attr("dominant-baseline", "central")
    .attr("font-size", p.big ? 17 : 15)
    .text("Overlap Rate");

  svg.append("text").attr("class", "tag")
    .attr("x", left + plotW / 2).attr("y", tagY[r])
    .attr("text-anchor", "middle")
    .attr("font-size", 20)
    .text(p.tag);
});

// legend
var legend = svg.append("g");
legend.append("rect").attr("x", 122).attr("y", 1052).attr("width", 855).attr("height", 35)
  .attr("fill", "#fff").attr("stroke", "#000").attr("stroke-width", 2);
var legendPos = [[128, 172, 178], [232, 272, 278], [322, 356, 360], [408, 455, 460], [522, 570, 576], [650, 700, 706], [776, 822, 828]];
trackers.forEach(function(t, i) {
  var ours = i === trackers.length - 1;
  var lp = legendPos[i];
  legend.append("line")
    .attr("x1", lp[0]).attr("x2", lp[1]).attr("y1", 1069).attr("y2", 1069)
    .attr("stroke", colors[i]).attr("stroke-width", 3.5)
    .attr("stroke-dasharray", ours ? null : "7,5");
  legend.append("text")
    .attr("x", lp[2]).attr("y", 1078)
    .attr("font-size", 25)
    .style("fill", colors[i])
    .text(t);
});
</script>
</body>
</html>
